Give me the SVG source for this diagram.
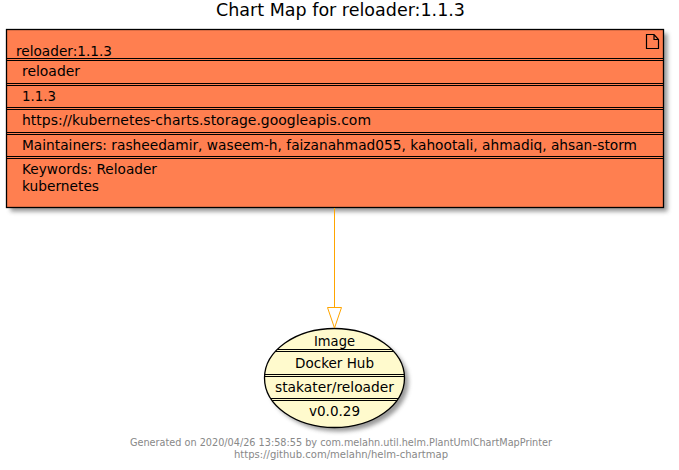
<svg xmlns="http://www.w3.org/2000/svg" width="679" height="470" viewBox="0 0 679 470">
<defs>
<filter id="sh" x="-10%" y="-10%" width="120%" height="120%"><feGaussianBlur stdDeviation="2"/></filter>
<clipPath id="ec"><ellipse cx="334.500" cy="378" rx="70" ry="49.500"/></clipPath>
</defs>
<style>
text{font-family:"DejaVu Sans",sans-serif;fill:#000}
.t{font-size:14.500px}
.d{stroke:#000;stroke-width:1;fill:none}
.f{font-size:10.500px;fill:#888;text-anchor:middle}
</style>
<rect width="679" height="470" fill="#fff"/>
<text x="340.500" y="16" font-size="18" text-anchor="middle" textLength="249" lengthAdjust="spacingAndGlyphs">Chart Map for reloader:1.1.3</text>
<g id="chart">
<rect x="10.500" y="33.500" width="657" height="178" fill="#777" opacity=".75" filter="url(#sh)"/>
<rect x="6.500" y="29.500" width="657" height="178" fill="#FF7F50" stroke="#000" stroke-width="1.300"/>
<path class="d" d="M7 58.500H663M7 60.500H663M7 83.500H663M7 85.500H663M7 107.500H663M7 109.500H663M7 132.500H663M7 134.500H663M7 156.500H663M7 158.500H663"/>
<path d="M646.500 34.500H654L658.500 39.500V48.500H646.500ZM654 34.500V39.500H658.500" fill="none" stroke="#000" stroke-width="1.200"/>
<text class="t" x="16" y="56" textLength="96" lengthAdjust="spacingAndGlyphs">reloader:1.1.3</text>
<text class="t" x="22" y="76" textLength="58" lengthAdjust="spacingAndGlyphs">reloader</text>
<text class="t" x="22" y="101" textLength="34" lengthAdjust="spacingAndGlyphs">1.1.3</text>
<text class="t" x="22" y="125" textLength="349" lengthAdjust="spacingAndGlyphs">https://kubernetes-charts.storage.googleapis.com</text>
<text class="t" x="22" y="150" textLength="615" lengthAdjust="spacingAndGlyphs">Maintainers: rasheedamir, waseem-h, faizanahmad055, kahootali, ahmadiq, ahsan-storm</text>
<text class="t" x="22" y="174" textLength="135" lengthAdjust="spacingAndGlyphs">Keywords: Reloader</text>
<text class="t" x="22" y="191" textLength="77" lengthAdjust="spacingAndGlyphs">kubernetes</text>
</g>
<g id="image">
<ellipse cx="338.500" cy="382" rx="70" ry="49.500" fill="#777" opacity=".75" filter="url(#sh)"/>
<ellipse cx="334.500" cy="378" rx="70" ry="49.500" fill="#FFFACD" stroke="#000" stroke-width="1.300"/>
<path class="d" clip-path="url(#ec)" d="M264 349.500H405M264 351.500H405M264 374.500H405M264 376.500H405M264 398.500H405M264 400.500H405"/>
<text class="t" x="334.500" y="346" text-anchor="middle" textLength="41" lengthAdjust="spacingAndGlyphs">Image</text>
<text class="t" x="334.500" y="368" text-anchor="middle" textLength="79" lengthAdjust="spacingAndGlyphs">Docker Hub</text>
<text class="t" x="334.500" y="392" text-anchor="middle" textLength="119" lengthAdjust="spacingAndGlyphs">stakater/reloader</text>
<text class="t" x="334.500" y="416" text-anchor="middle" textLength="51" lengthAdjust="spacingAndGlyphs">v0.0.29</text>
</g>
<g id="connectors">
<path d="M334.500 208V307.500" fill="none" stroke="#FFA500"/>
<path d="M327.500 307.500H341.500L334.500 328Z" fill="#fff" stroke="#FFA500"/>
</g>
<text class="f" x="341" y="446" textLength="422" lengthAdjust="spacingAndGlyphs">Generated on 2020/04/26 13:58:55 by com.melahn.util.helm.PlantUmlChartMapPrinter</text>
<text class="f" x="341" y="458" textLength="214" lengthAdjust="spacingAndGlyphs">https://github.com/melahn/helm-chartmap</text>
</svg>
